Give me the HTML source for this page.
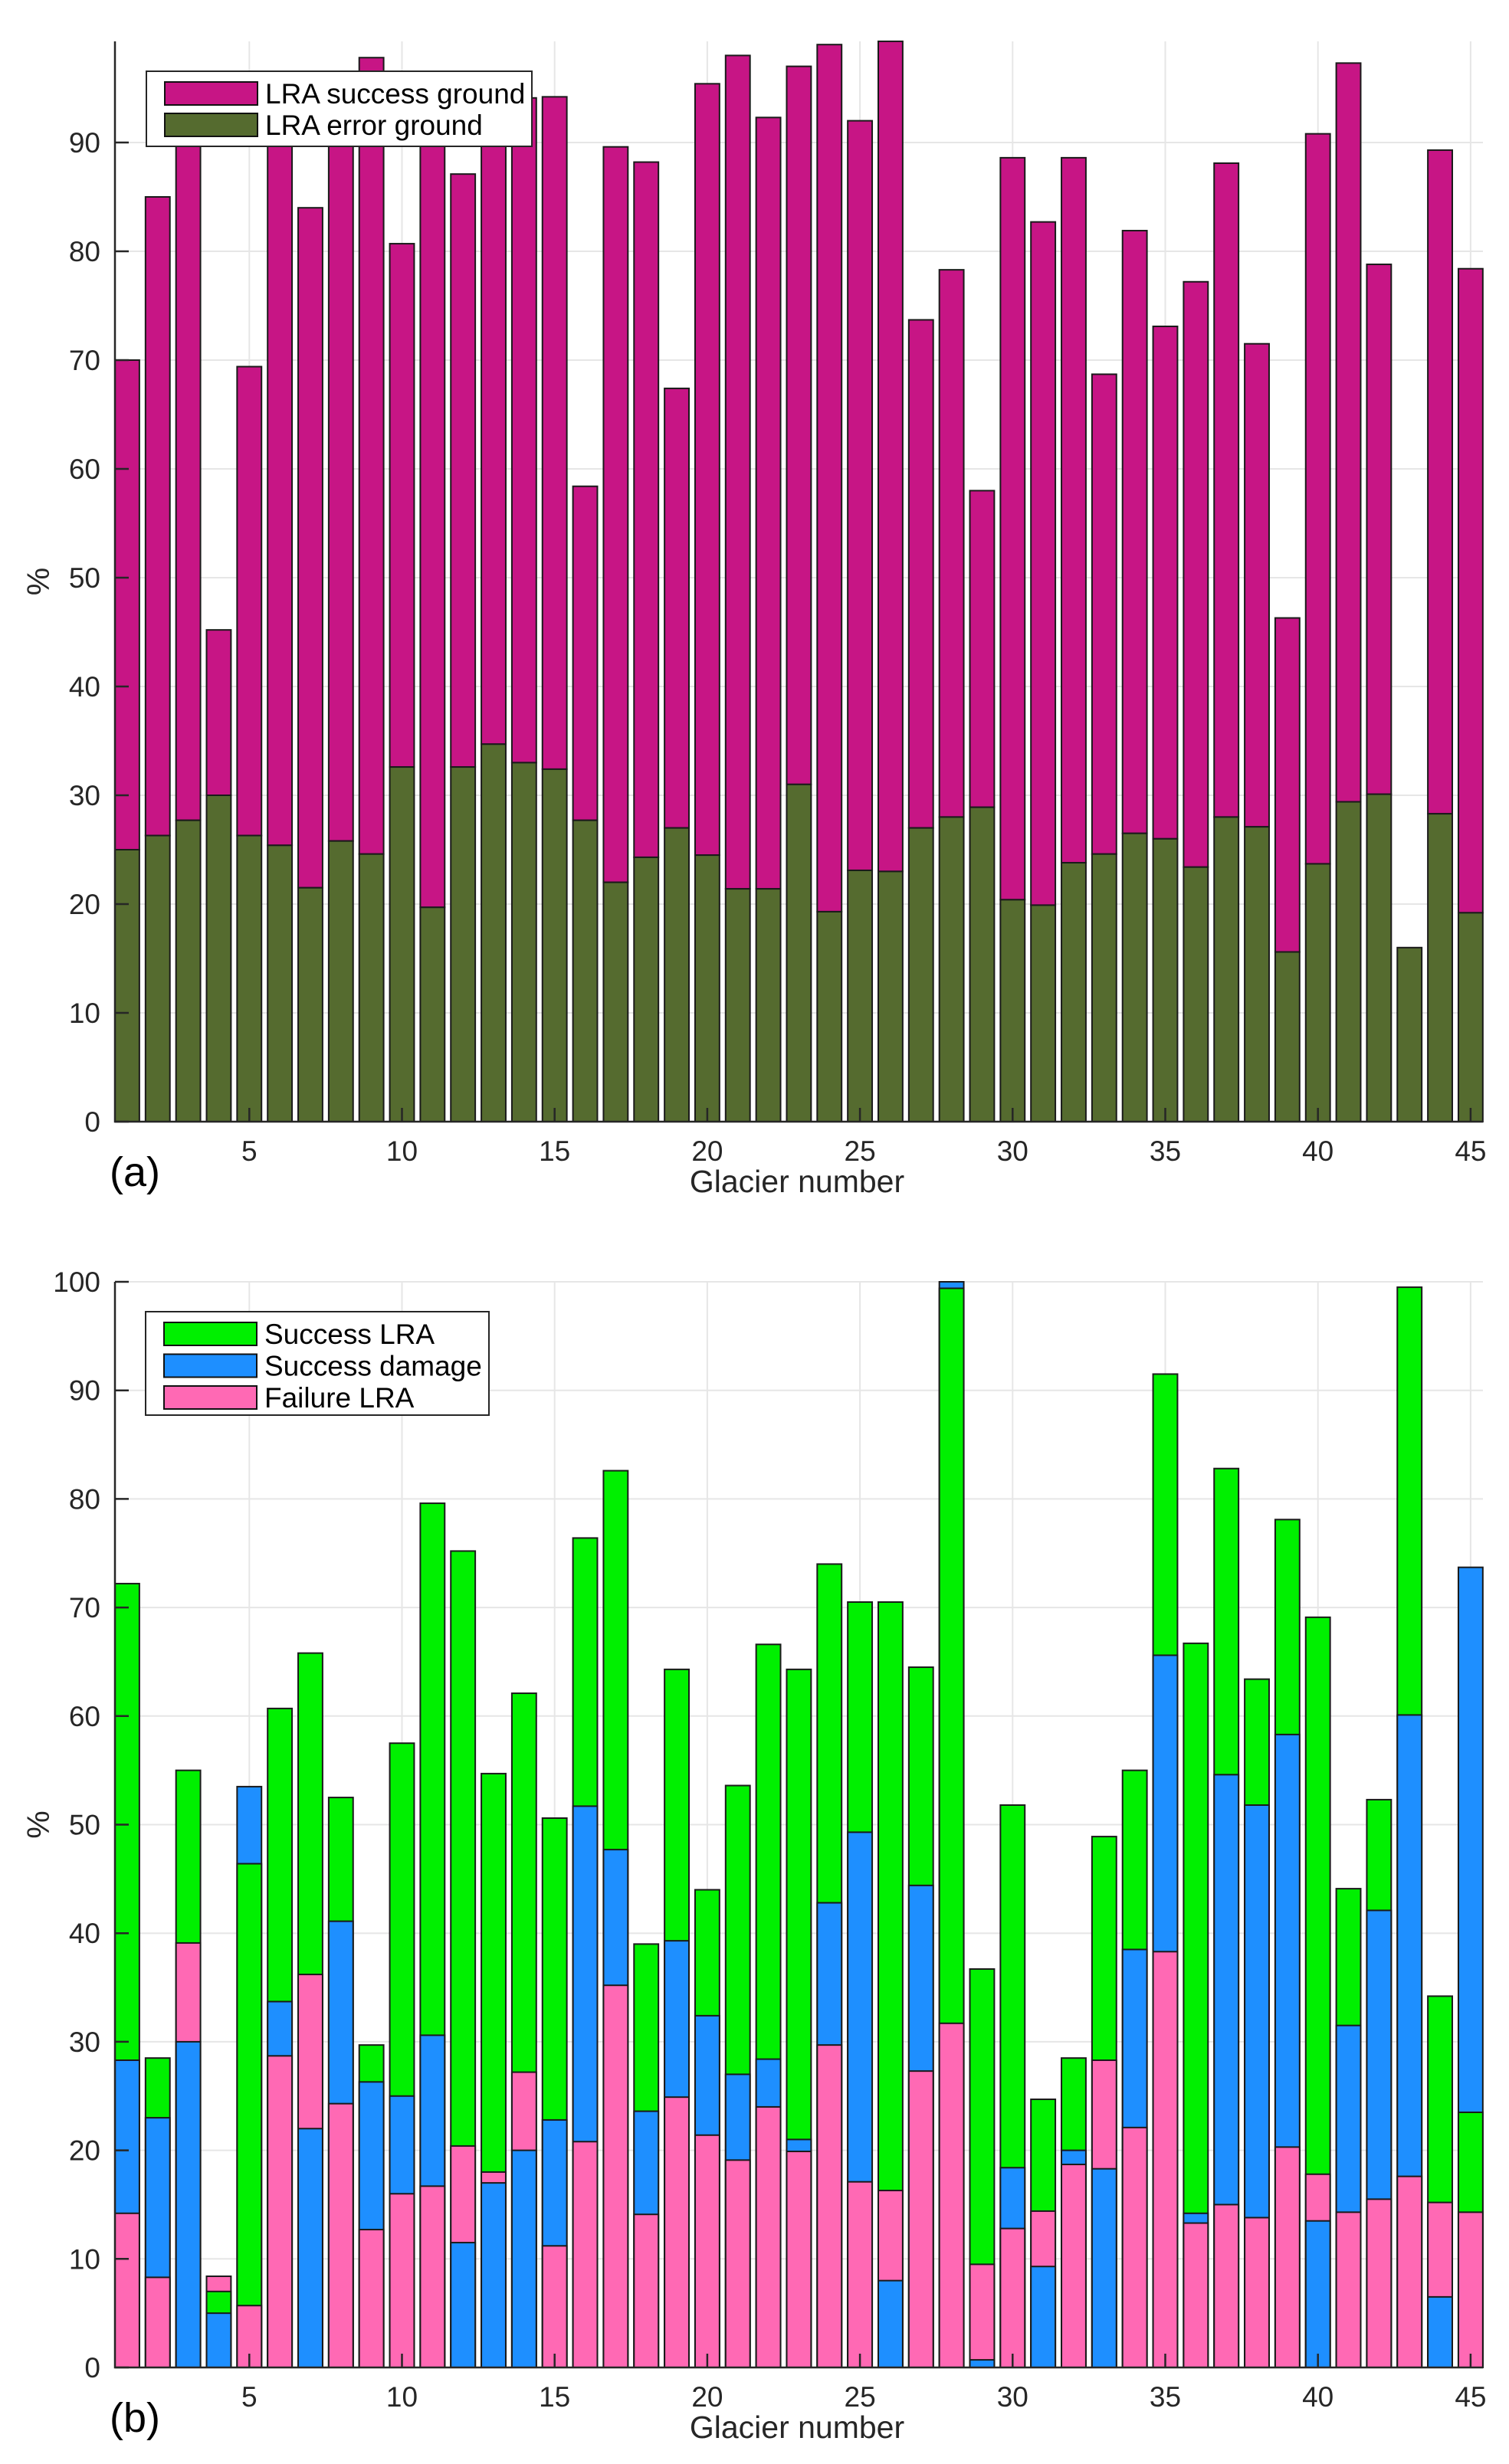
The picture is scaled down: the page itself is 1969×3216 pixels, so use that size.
<!DOCTYPE html>
<html><head><meta charset="utf-8"><style>
html,body{margin:0;padding:0;background:#fff}
svg{display:block}
text{font-family:"Liberation Sans",Arial,sans-serif}
</style></head><body>
<svg id="fig" width="1969" height="3216" viewBox="0 0 1969 3216" xmlns="http://www.w3.org/2000/svg">
<g id="pa"></g>
<g id="pb"></g>
</svg>
<script>
// Panel (a) data
const glaciers = Array.from({length:45},(_,i)=>i+1);
const errorGround = [25,26.3,27.7,30,26.3,25.4,21.5,25.8,24.6,32.6,19.7,32.6,34.7,33,32.4,27.7,22,24.3,27,24.5,21.4,21.4,31,19.3,23.1,23,27,28,28.9,20.4,19.9,23.8,24.6,26.5,26,23.4,28,27.1,15.6,23.7,29.4,30.1,16,28.3,19.2];
const totalGround = [70,85,92,45.2,69.4,93,84,92,97.8,80.7,93,87.1,95,94.1,94.2,58.4,89.6,88.2,67.4,95.4,98,92.3,97,99,92,99.3,73.7,78.3,58,88.6,82.7,88.6,68.7,81.9,73.1,77.2,88.1,71.5,46.3,90.8,97.3,78.8,16,89.3,78.4];
const ticksA = [0,10,20,30,40,50,60,70,80,90];
// Panel (b) data (overlaid bars, each from 0)
const successLRA = [72.2,28.5,55,7,46.4,60.7,65.8,52.5,29.7,57.5,79.6,75.2,54.7,62.1,50.6,76.4,82.6,39,64.3,44,53.6,66.6,64.3,74,70.5,70.5,64.5,99.4,36.7,51.8,24.7,28.5,48.9,55,91.5,66.7,82.8,63.4,78.1,69.1,44.1,52.3,99.5,34.2,23.5];
const successDamage = [28.3,23,30,5,53.5,33.7,22,41.1,26.3,25,30.6,11.5,17,20,22.8,51.7,47.7,23.6,39.3,32.4,27,28.4,21,42.8,49.3,8,44.4,100,0.7,18.4,9.3,20,18.3,38.5,65.6,14.2,54.6,51.8,58.3,13.5,31.5,42.1,60.1,6.5,73.7];
const failureLRA = [14.2,8.3,39.1,8.4,5.7,28.7,36.2,24.3,12.7,16,16.7,20.4,18,27.2,11.2,20.8,35.2,14.1,24.9,21.4,19.1,24,19.9,29.7,17.1,16.3,27.3,31.7,9.5,12.8,14.4,18.7,28.3,22.1,38.3,13.3,15,13.8,20.3,17.8,14.3,15.5,17.6,15.2,14.3];
const ticksB = [0,10,20,30,40,50,60,70,80,90,100];
const xTicks = [5,10,15,20,25,30,35,40,45];

const NS="http://www.w3.org/2000/svg";
function mk(parent,tag,attrs,txt){const e=document.createElementNS(NS,tag);for(const k in attrs)e.setAttribute(k,attrs[k]);if(txt!==undefined)e.textContent=txt;parent.appendChild(e);return e;}
const X0=150,X1=1935;
const xs=v=>X0+(v-0.6)*39.84;
const BW=0.8*39.84;

function axes(g,y0,yTop,ys,ticks){
  ticks.forEach(t=>{const l=mk(g,'line',{x1:X0,x2:X1,y1:ys(t),y2:ys(t),stroke:'#e6e6e6','stroke-width':2});
    
    });
  xTicks.forEach(t=>{const l=mk(g,'line',{x1:xs(t),x2:xs(t),y1:yTop,y2:y0,stroke:'#e6e6e6','stroke-width':2});
    
    });
}
function axesFront(g,y0,yTop,ys,ticks,panelLabel){
  const ax=mk(g,'path',{d:`M${X0},${yTop}V${y0}H${X1}`,fill:'none',stroke:'#262626','stroke-width':2.5});
  
  
  ticks.forEach(t=>{mk(g,'line',{x1:X0,x2:X0+18,y1:ys(t),y2:ys(t),stroke:'#262626','stroke-width':2.5});
    const tx=mk(g,'text',{x:131,y:ys(t)+13,'text-anchor':'end','font-size':37,fill:'#262626'},String(t));
    
    });
  xTicks.forEach(t=>{mk(g,'line',{x1:xs(t),x2:xs(t),y1:y0,y2:y0-18,stroke:'#262626','stroke-width':2.5});
    const tx=mk(g,'text',{x:xs(t),y:y0+51,'text-anchor':'middle','font-size':37,fill:'#262626'},String(t));
    
    });
  const xl=mk(g,'text',{x:1040,y:y0+92,'text-anchor':'middle','font-size':41,fill:'#262626'},'Glacier number');
  
  
  const yc=(y0+yTop)/2;
  const yl=mk(g,'text',{x:64,y:yc,'text-anchor':'middle','font-size':41,fill:'#262626',transform:`rotate(-90 64 ${yc})`},'%');
  
  
  const pl=mk(g,'text',{x:143,y:y0+84,'font-size':54,fill:'#000'},panelLabel);
  
  
}
function legend(g,x,y,w,h,items,rowH,firstC){
  const b=mk(g,'rect',{x:x,y:y,width:w,height:h,fill:'#fff',stroke:'#262626','stroke-width':2});
  
  
  items.forEach((it,i)=>{const cy=firstC+i*rowH;
    const s=mk(g,'rect',{x:x+24,y:cy-15,width:121,height:30,fill:it[1],stroke:'#111','stroke-width':2});
    
    
    const t=mk(g,'text',{x:x+155,y:cy+13,'font-size':37,fill:'#000','xml:space':'preserve'},it[0]);
    
    });
}

// Panel a
(function(){
  const g=document.getElementById('pa');
  const y0=1464,yTop=54,ys=v=>y0-v*14.2;
  axes(g,y0,yTop,ys,ticksA);
  glaciers.forEach((n,i)=>{
    const top=mk(g,'rect',{x:xs(n)-BW/2,y:ys(totalGround[i]),width:BW,height:ys(errorGround[i])-ys(totalGround[i]),fill:'#C71585',stroke:'#1a1a1a','stroke-width':2});
    
    
    const bot=mk(g,'rect',{x:xs(n)-BW/2,y:ys(errorGround[i]),width:BW,height:y0-ys(errorGround[i]),fill:'#556B2F',stroke:'#1a1a1a','stroke-width':2});
    
    
  });
  axesFront(g,y0,yTop,ys,ticksA,'(a)');
  legend(g,191,93,503,98,[['LRA success ground','#C71585'],['LRA error ground','#556B2F']],41,122);
})();
// Panel b
(function(){
  const g=document.getElementById('pb');
  const y0=3090,yTop=1673,ys=v=>y0-v*14.17;
  axes(g,y0,yTop,ys,ticksB);
  glaciers.forEach((n,i)=>{
    const segs=[[successLRA[i],'#00F000','bar-success-lra'],[successDamage[i],'#1E8FFF','bar-success-damage'],[failureLRA[i],'#FF69B4','bar-failure-lra']];
    segs.sort((a,b)=>b[0]-a[0]);
    segs.forEach(s=>{
      const r=mk(g,'rect',{x:xs(n)-BW/2,y:ys(s[0]),width:BW,height:y0-ys(s[0]),fill:s[1],stroke:'#1a1a1a','stroke-width':2});
      
      
    });
  });
  axesFront(g,y0,yTop,ys,ticksB,'(b)');
  legend(g,190,1712,448,135,[['Success LRA','#00F000'],['Success  damage','#1E8FFF'],['Failure LRA','#FF69B4']],41.5,1741);
})();
</script>
</body></html>
